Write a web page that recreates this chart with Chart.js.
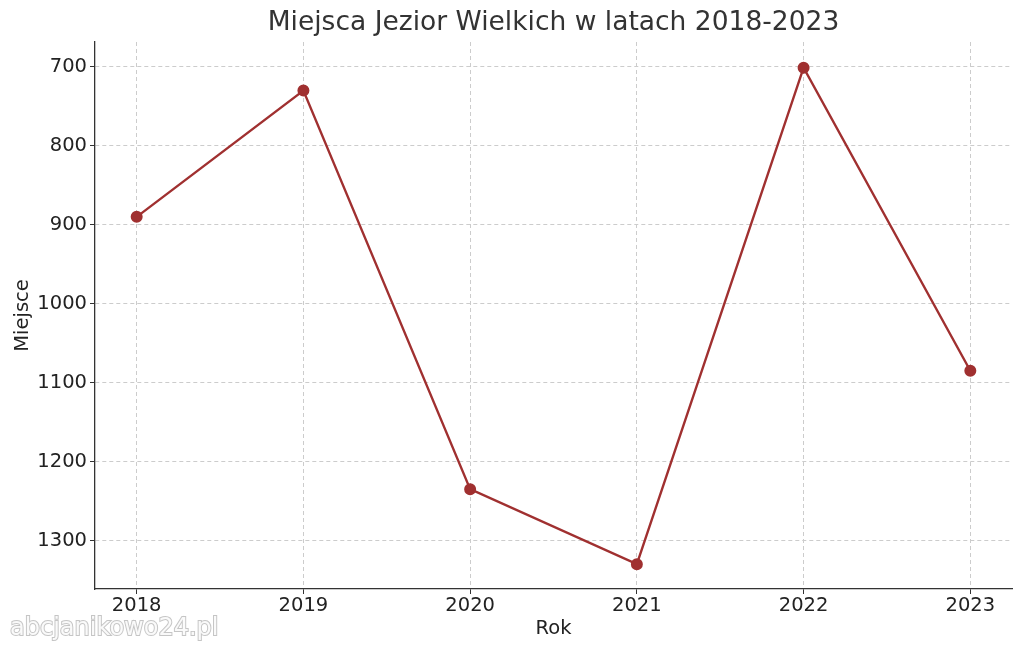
<!DOCTYPE html>
<html>
<head>
<meta charset="utf-8">
<script src="https://cdn.jsdelivr.net/npm/chart.js@4/dist/chart.umd.min.js"></script>
<style>
html,body{margin:0;padding:0;background:#fff;}
#wrap{width:1024px;height:652px;position:relative;}
</style>
</head>
<body>
<div id="wrap"><canvas id="c" width="1024" height="652"></canvas></div>
<script>
const years = [2018, 2019, 2020, 2021, 2022, 2023];
const places = [890, 730, 1235, 1330, 701, 1085];
const yTicks = [700, 800, 900, 1000, 1100, 1200, 1300];
const chartTitle = 'Miejsca Jezior Wielkich w latach 2018-2023';
const xTitle = 'Rok';
const yTitle = 'Miejsce';
const watermark = 'abcjanikowo24.pl';

const FONT = "'DejaVu Sans', sans-serif";
const lineColor = '#a03030';

const titlePlugin = {
  id: 'axTitle',
  afterDraw(chart) {
    const ctx = chart.ctx;
    const a = chart.chartArea;
    ctx.save();
    ctx.font = "26.5px 'DejaVu Sans', sans-serif";
    ctx.fillStyle = '#333333';
    ctx.textAlign = 'center';
    ctx.textBaseline = 'middle';
    ctx.fillText(chartTitle, (a.left + a.right) / 2, 23);
    ctx.restore();
  }
};

const wmPlugin = {
  id: 'wm',
  afterDraw(chart) {
    const ctx = chart.ctx;
    ctx.save();
    ctx.font = "24px 'DejaVu Sans', sans-serif";
    ctx.textBaseline = 'middle';
    ctx.textAlign = 'left';
    ctx.lineWidth = 2;
    ctx.strokeStyle = 'rgba(150,150,150,0.55)';
    ctx.fillStyle = 'rgba(255,255,255,0.9)';
    ctx.strokeText(watermark, 10, 629);
    ctx.fillText(watermark, 10, 629);
    ctx.restore();
  }
};

const gridOpts = {
  color: '#cccccc',
  tickLength: 5,
  tickColor: '#333333',
  tickBorderDash: [],
  lineWidth: 1
};
const borderOpts = {display: true, color: '#333333', width: 1.3, dash: [4, 3]};

new Chart(document.getElementById('c'), {
  type: 'line',
  data: {
    datasets: [{
      data: years.map((y, i) => ({x: y, y: places[i]})),
      borderColor: lineColor,
      backgroundColor: lineColor,
      borderWidth: 2.4,
      pointRadius: 4.8,
      pointHoverRadius: 4.8,
      pointBackgroundColor: lineColor,
      pointBorderColor: lineColor,
      tension: 0,
      fill: false
    }]
  },
  options: {
    responsive: false,
    animation: false,
    devicePixelRatio: 1,
    layout: {padding: {left: 0, right: 12, top: 42, bottom: 0}},
    plugins: {
      legend: {display: false},
      tooltip: {enabled: false},
      title: {display: false}
    },
    scales: {
      x: {
        type: 'linear',
        min: 2017.75,
        max: 2023.25,
        afterBuildTicks(scale) { scale.ticks = years.map(v => ({value: v})); },
        afterFit(scale) { scale.height = 63; },
        ticks: {
          color: '#222222',
          font: {family: FONT, size: 19.5},
          padding: 0,
          maxRotation: 0,
          autoSkip: false,
          callback: v => String(v)
        },
        grid: gridOpts,
        border: borderOpts,
        title: {
          display: true,
          text: xTitle,
          color: '#222222',
          font: {family: FONT, size: 19.5},
          padding: {top: 4, bottom: 11}
        }
      },
      y: {
        type: 'linear',
        reverse: true,
        min: 668.5,
        max: 1361.5,
        afterBuildTicks(scale) { scale.ticks = yTicks.map(v => ({value: v})); },
        afterFit(scale) { scale.width = 95; },
        ticks: {
          color: '#222222',
          font: {family: FONT, size: 19.5},
          padding: 3,
          callback: v => String(v)
        },
        grid: gridOpts,
        border: borderOpts,
        title: {
          display: true,
          text: yTitle,
          color: '#222222',
          font: {family: FONT, size: 19.5},
          padding: {top: 11, bottom: 4}
        }
      }
    }
  },
  plugins: [titlePlugin, wmPlugin]
});
</script>
</body>
</html>
